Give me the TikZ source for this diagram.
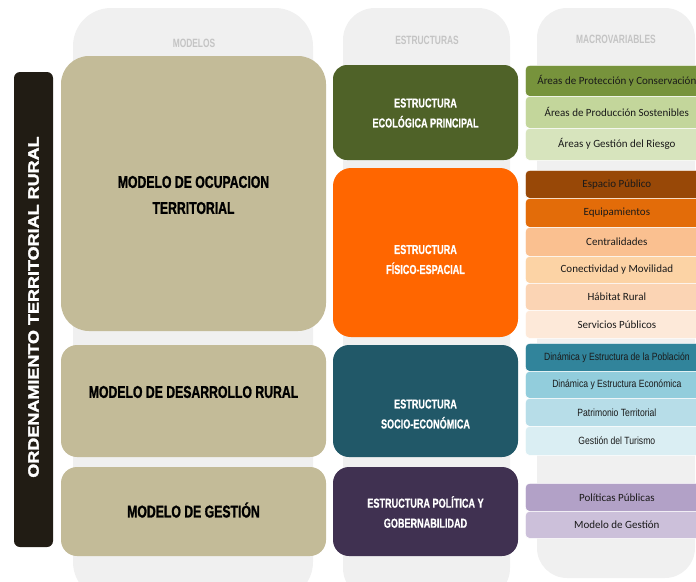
\documentclass[tikz,border=0pt]{standalone}
\usepackage{fontspec}
\setmainfont{Liberation Sans}
\newfontfamily\condfont[FakeStretch=0.72,FakeBold=1.2]{Liberation Sans Bold}
\newfontfamily\hdrfont[FakeStretch=0.7]{Liberation Sans Bold}
\newfontfamily\structfont[FakeStretch=0.7,FakeBold=0.6]{Liberation Sans Bold}
\newfontfamily\barfont[FakeStretch=1.2,FakeBold=2.2]{Liberation Sans Bold}
\newfontfamily\calfont{Carlito}
\newfontfamily\narfont[FakeStretch=0.82]{Liberation Sans}
\definecolor{colbg}{HTML}{F0F0F0}
\definecolor{hdrgray}{HTML}{C4C4C4}
\definecolor{barblack}{HTML}{211C14}
\definecolor{tan}{HTML}{C3BB98}
\definecolor{sgreen}{HTML}{4F6228}
\definecolor{sorange}{HTML}{FF6600}
\definecolor{steal}{HTML}{215868}
\definecolor{spurple}{HTML}{403151}
\definecolor{gA}{HTML}{77933C}
\definecolor{gB}{HTML}{C3D69B}
\definecolor{gC}{HTML}{D7E4BD}
\definecolor{oA}{HTML}{984807}
\definecolor{oB}{HTML}{E36C09}
\definecolor{oC}{HTML}{FAC090}
\definecolor{oD}{HTML}{FCD3A5}
\definecolor{oE}{HTML}{FBD4B4}
\definecolor{oF}{HTML}{FDE9D9}
\definecolor{tA}{HTML}{31849B}
\definecolor{tB}{HTML}{92CDDC}
\definecolor{tC}{HTML}{B7DDE8}
\definecolor{tD}{HTML}{DAEEF3}
\definecolor{pA}{HTML}{B2A1C7}
\definecolor{pB}{HTML}{CCC0DA}
\definecolor{textdark}{HTML}{1A1A1A}
\tikzset{
  hdr/.style={text=hdrgray, font=\hdrfont\fontsize{12}{12}\selectfont, inner sep=0},
  modelbox/.style={fill=tan, minimum width=265pt, inner sep=0},
  mtext/.style={font=\condfont\fontsize{17}{26}\selectfont, align=center, text=black, inner sep=0},
  sbox/.style={minimum width=185pt, inner sep=0},
  stext/.style={text=white, font=\structfont\fontsize{13}{20}\selectfont, align=center, inner sep=0},
  mv/.style={minimum width=183pt, inner sep=0, draw=white, line width=0.7pt, rounded corners=4pt, anchor=north west, text=textdark},
  mvc/.style={mv, font=\calfont\fontsize{11}{11}\selectfont},
  mvn/.style={mv, font=\narfont\fontsize{10.5}{11}\selectfont},
}
\begin{document}
\begin{tikzpicture}[x=1pt,y=-1pt]
\useasboundingbox (0,0) rectangle (696,581);
\clip (0,0) rectangle (696,581);
% background columns
\fill[colbg, rounded corners=38pt] (73,8) rectangle (313,600);
\fill[colbg, rounded corners=32pt] (343,8) rectangle (510,600);
\fill[colbg, rounded corners=30pt] (537,8) rectangle (695,578);
% headers
\node[hdr] (h1) at (194,43) {MODELOS};
\node[hdr] (h2) at (427,40) {ESTRUCTURAS};
\node[hdr] (h3) at (616,39) {MACROVARIABLES};
% left bar
\node[fill=barblack, rounded corners=6pt, minimum width=39pt, minimum height=475pt, inner sep=0] (bar) at (33.5,309.5) {};
\node[rotate=90, text=white, font=\barfont\fontsize{15}{15}\selectfont, inner sep=0] (bart) at (33.5,307) {ORDENAMIENTO TERRITORIAL RURAL};
% models
\node[modelbox, rounded corners=28pt, minimum height=275pt] (m1) at (193.5,193.5) {};
\node[modelbox, rounded corners=16pt, minimum height=112pt] (m2) at (193.5,401) {};
\node[modelbox, rounded corners=16pt, minimum height=89pt] (m3) at (193.5,511.5) {};
\node[mtext] (m1t) at (193.5,195) {MODELO DE OCUPACION\\TERRITORIAL};
\node[mtext] (m2t) at (193.5,392) {MODELO DE DESARROLLO RURAL};
\node[mtext] (m3t) at (193.5,510) {MODELO DE GESTIÓN};
% structures
\node[sbox, fill=sgreen, rounded corners=14pt, minimum height=95pt] (s1) at (425.5,112.5) {};
\node[sbox, fill=sorange, rounded corners=18pt, minimum height=169pt] (s2) at (425.5,252.5) {};
\node[sbox, fill=steal, rounded corners=16pt, minimum height=112pt] (s3) at (425.5,401) {};
\node[sbox, fill=spurple, rounded corners=16pt, minimum height=89pt] (s4) at (425.5,511.5) {};
\node[stext] (s1t) at (425.5,113) {ESTRUCTURA\\ECOLÓGICA PRINCIPAL};
\node[stext] (s2t) at (425.5,259.5) {ESTRUCTURA\\FÍSICO-ESPACIAL};
\node[stext] (s3t) at (425.5,414) {ESTRUCTURA\\SOCIO-ECONÓMICA};
\node[stext] (s4t) at (425.5,512) {ESTRUCTURA POLÍTICA Y\\GOBERNABILIDAD};
% macrovariables
\node[mvc, fill=gA, minimum height=31pt] (g1) at (525,65) {Áreas de Protección y Conservación};
\node[mvc, fill=gB, minimum height=32pt] (g2) at (525,96) {Áreas de Producción Sostenibles};
\node[mvc, fill=gC, minimum height=32pt] (g3) at (525,128) {Áreas y Gestión del Riesgo};
\node[mvc, fill=oA, minimum height=28pt] (o1) at (525,170) {Espacio Público};
\node[mvc, fill=oB, minimum height=29pt] (o2) at (525,198) {Equipamientos};
\node[mvc, fill=oC, minimum height=29pt] (o3) at (525,227) {Centralidades};
\node[mvc, fill=oD, minimum height=27pt] (o4) at (525,256) {Conectividad y Movilidad};
\node[mvc, fill=oE, minimum height=27pt] (o5) at (525,283) {Hábitat Rural};
\node[mvc, fill=oF, minimum height=28pt] (o6) at (525,310) {Servicios Públicos};
\node[mvn, fill=tA, minimum height=28pt] (t1) at (525,343) {Dinámica y Estructura de la Población};
\node[mvn, fill=tB, minimum height=27pt] (t2) at (525,371) {Dinámica y Estructura Económica};
\node[mvn, fill=tC, minimum height=28pt] (t3) at (525,398) {Patrimonio Territorial};
\node[mvn, fill=tD, minimum height=29pt] (t4) at (525,426) {Gestión del Turismo};
\node[mvc, fill=pA, minimum height=28pt] (p1) at (525,483) {Políticas Públicas};
\node[mvc, fill=pB, minimum height=27pt] (p2) at (525,511) {Modelo de Gestión};
\end{tikzpicture}
\end{document}
